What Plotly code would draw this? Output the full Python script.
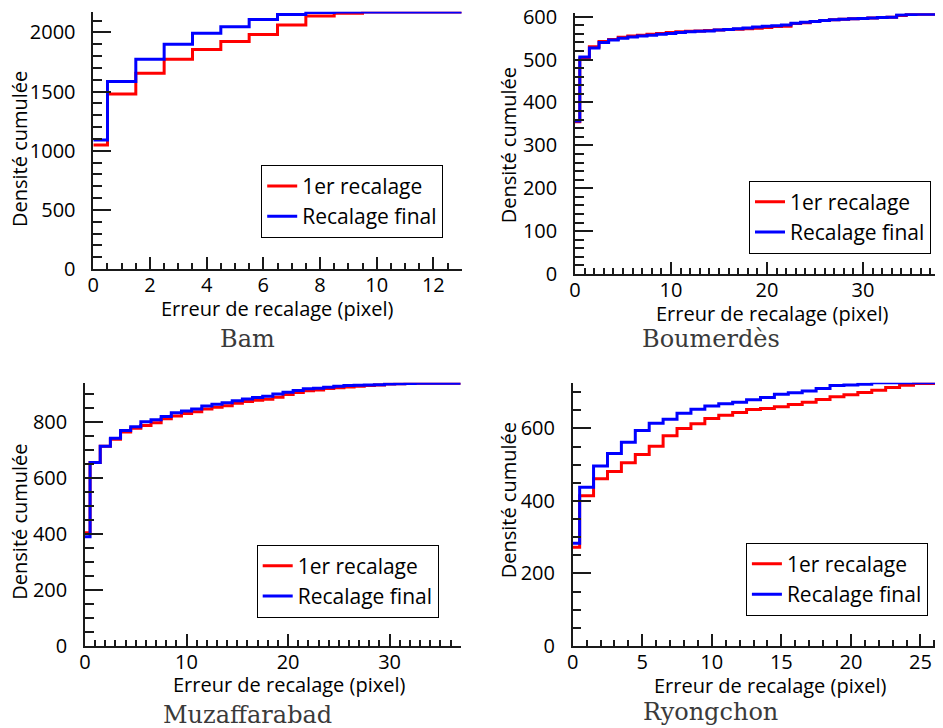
import plotly.graph_objects as go

# ---------------- data (cumulative counts per 1-pixel error bin) ----------------
bam_red = [1048, 1479, 1654, 1772, 1856, 1924, 1983, 2062, 2138, 2161, 2172, 2172, 2172, 2172]
bam_blue = [1090, 1586, 1772, 1899, 1992, 2048, 2110, 2152, 2169, 2172, 2172, 2172, 2172, 2172]

boum_red = [355, 502, 530, 542, 547, 552, 555, 557, 559, 561, 563, 565, 566, 567, 568, 569, 570,
            571, 572, 573, 575, 577, 578, 584, 586, 589, 591, 593, 594, 595, 596, 597, 598, 599,
            603, 605, 606, 606, 607]
boum_blue = [357, 506, 527, 540, 546, 550, 553, 555, 557, 559, 561, 563, 565, 566, 567, 569, 570,
             572, 574, 576, 578, 579, 581, 585, 587, 589, 591, 593, 594, 595, 596, 597, 598, 599,
             604, 605, 606, 606, 607]

muz_red = [404, 655, 713, 738, 764, 777, 787, 797, 811, 821, 830, 836, 846, 852, 858, 867, 873,
           877, 881, 888, 898, 905, 911, 914, 919, 922, 925, 927, 930, 932, 935, 936, 937, 938,
           938, 938, 938, 938]
muz_blue = [390, 655, 713, 742, 769, 783, 801, 808, 819, 833, 839, 846, 857, 863, 868, 876, 882,
            887, 892, 900, 906, 912, 918, 920, 924, 927, 930, 931, 932, 933, 935, 936, 937, 938,
            938, 938, 938, 938]

ryo_red = [272, 414, 461, 481, 505, 528, 551, 580, 600, 613, 627, 636, 644, 652, 655, 660, 666,
           672, 680, 687, 693, 699, 705, 713, 719, 724, 724]
ryo_blue = [283, 438, 496, 531, 562, 594, 614, 625, 642, 653, 662, 668, 672, 679, 685, 694, 698,
            703, 710, 718, 720, 722, 726, 726, 726, 726, 726]

panel_names = ["Bam", "Boumerdès", "Muzaffarabad", "Ryongchon"]
x_max = [13, 38.3, 37.0, 26.6]
y_max = [2175, 608, 940, 726]
x_dtick = [2, 10, 10, 5]
x_minor = [0.5, 1, 1, 1]
y_dtick = [500, 100, 200, 200]
y_minor = [100, 20, 50, 50]

series_red = [bam_red, boum_red, muz_red, ryo_red]
series_blue = [bam_blue, boum_blue, muz_blue, ryo_blue]

legend_names = ["1er recalage", "Recalage final"]
x_title = "Erreur de recalage (pixel)"
y_title = "Densité cumulée"

# ---------------- layout geometry (page pixels; page body has an 8 px margin) ----------------
OFF = 8
W, H = 943 - OFF, 728 - OFF
boxes = [(93.3, 461.7, 11.7, 269.0),
         (575.0, 942.7, 13.3, 274.0),
         (85.0, 460.7, 382.7, 646.0),
         (572.7, 942.7, 382.7, 646.0)]
legend_ctr = [(352.2, 201.3), (840.0, 217.0), (347.7, 581.0), (836.9, 579.2)]
label_pos = [(247.7, 339), (710.8, 339), (247.5, 715), (710.8, 712)]
xtitle_pos = [(277.0, 308.0), (771.7, 313.3), (288.8, 684.3), (770.3, 685.0)]
ytitle_pos = [(20.0, 149.0), (508.3, 145.0), (20.0, 521.7), (508.3, 500.0)]
ymaj_len = [18, 18, 18, 19]

SANS = "Open Sans"
FS = 19


def px(x):
    return (x - OFF) / W


def py(y):
    return 1 - (y - OFF) / H


def edges(vals, xmax):
    xs = [0.0] + [i - 0.5 for i in range(1, len(vals))] + [xmax]
    ys = list(vals) + [vals[-1]]
    return xs, ys


fig = go.Figure()
annotations = []
layout = dict(
    template="none",
    width=W, height=H, margin=dict(l=0, r=0, t=0, b=0, autoexpand=False),
    paper_bgcolor="white", plot_bgcolor="white",
    font=dict(family=SANS, size=FS, color="black"),
)

for k in range(4):
    sfx = "" if k == 0 else str(k + 1)
    leg = "legend" if k == 0 else "legend" + str(k + 1)
    for vals, col, nm in [(series_red[k], "#ff0000", legend_names[0]),
                          (series_blue[k], "#0000ff", legend_names[1])]:
        xs, ys = edges(vals, x_max[k])
        fig.add_trace(go.Scatter(
            x=xs, y=ys, mode="lines", line=dict(color=col, width=3, shape="hv"),
            name=nm, xaxis="x" + sfx, yaxis="y" + sfx, legend=leg, showlegend=True,
        ))
    l, r, t, b = boxes[k]
    layout["xaxis" + sfx] = dict(
        domain=[px(l), px(r)], anchor="y" + sfx, range=[0, x_max[k]], automargin=False,
        showline=True, linecolor="#1a1a1a", linewidth=1.5, showgrid=False, zeroline=False,
        ticks="inside", ticklen=12, tickwidth=1.5, tickcolor="#1a1a1a",
        tick0=0, dtick=x_dtick[k], ticklabelstandoff=-3, ticklabeloverflow="allow",
        minor=dict(ticks="inside", ticklen=6, tickwidth=1.5, tickcolor="#1a1a1a",
                   dtick=x_minor[k], tick0=0, showgrid=False),
        tickfont=dict(size=FS + 1),
    )
    layout["yaxis" + sfx] = dict(
        domain=[py(b), py(t)], anchor="x" + sfx, range=[0, y_max[k]], automargin=False,
        showline=True, linecolor="#1a1a1a", linewidth=1.5, showgrid=False, zeroline=False,
        ticks="inside", ticklen=ymaj_len[k], tickwidth=1.5, tickcolor="#1a1a1a",
        tick0=0, dtick=y_dtick[k], ticklabelstandoff=12, ticklabeloverflow="allow",
        minor=dict(ticks="inside", ticklen=9, tickwidth=1.5, tickcolor="#1a1a1a",
                   dtick=y_minor[k], tick0=0, showgrid=False),
        tickfont=dict(size=FS + 1),
    )
    lx, ly = legend_ctr[k]
    layout[leg] = dict(
        x=px(lx), y=py(ly), xanchor="center", yanchor="middle",
        bordercolor="black", borderwidth=1, bgcolor="white",
        font=dict(family=SANS, size=FS + 2, color="black"),
        tracegroupgap=0,
    )
    tx, ty = xtitle_pos[k]
    annotations.append(dict(
        text=x_title, x=px(tx), y=py(ty), xref="paper", yref="paper",
        xanchor="center", yanchor="middle", showarrow=False,
        font=dict(family=SANS, size=FS + 1, color="black"),
    ))
    tx, ty = ytitle_pos[k]
    annotations.append(dict(
        text=y_title, x=px(tx), y=py(ty), xref="paper", yref="paper", textangle=-90,
        xanchor="center", yanchor="middle", showarrow=False,
        font=dict(family=SANS, size=FS + 1, color="black"),
    ))
    cx, cy = label_pos[k]
    annotations.append(dict(
        text=panel_names[k], x=px(cx), y=py(cy), xref="paper", yref="paper",
        xanchor="center", yanchor="middle", showarrow=False,
        font=dict(family="DejaVu Serif", size=24, color="#3a3a3a"),
    ))

layout["annotations"] = annotations
fig.update_layout(**layout)
fig.write_html("out.html")
